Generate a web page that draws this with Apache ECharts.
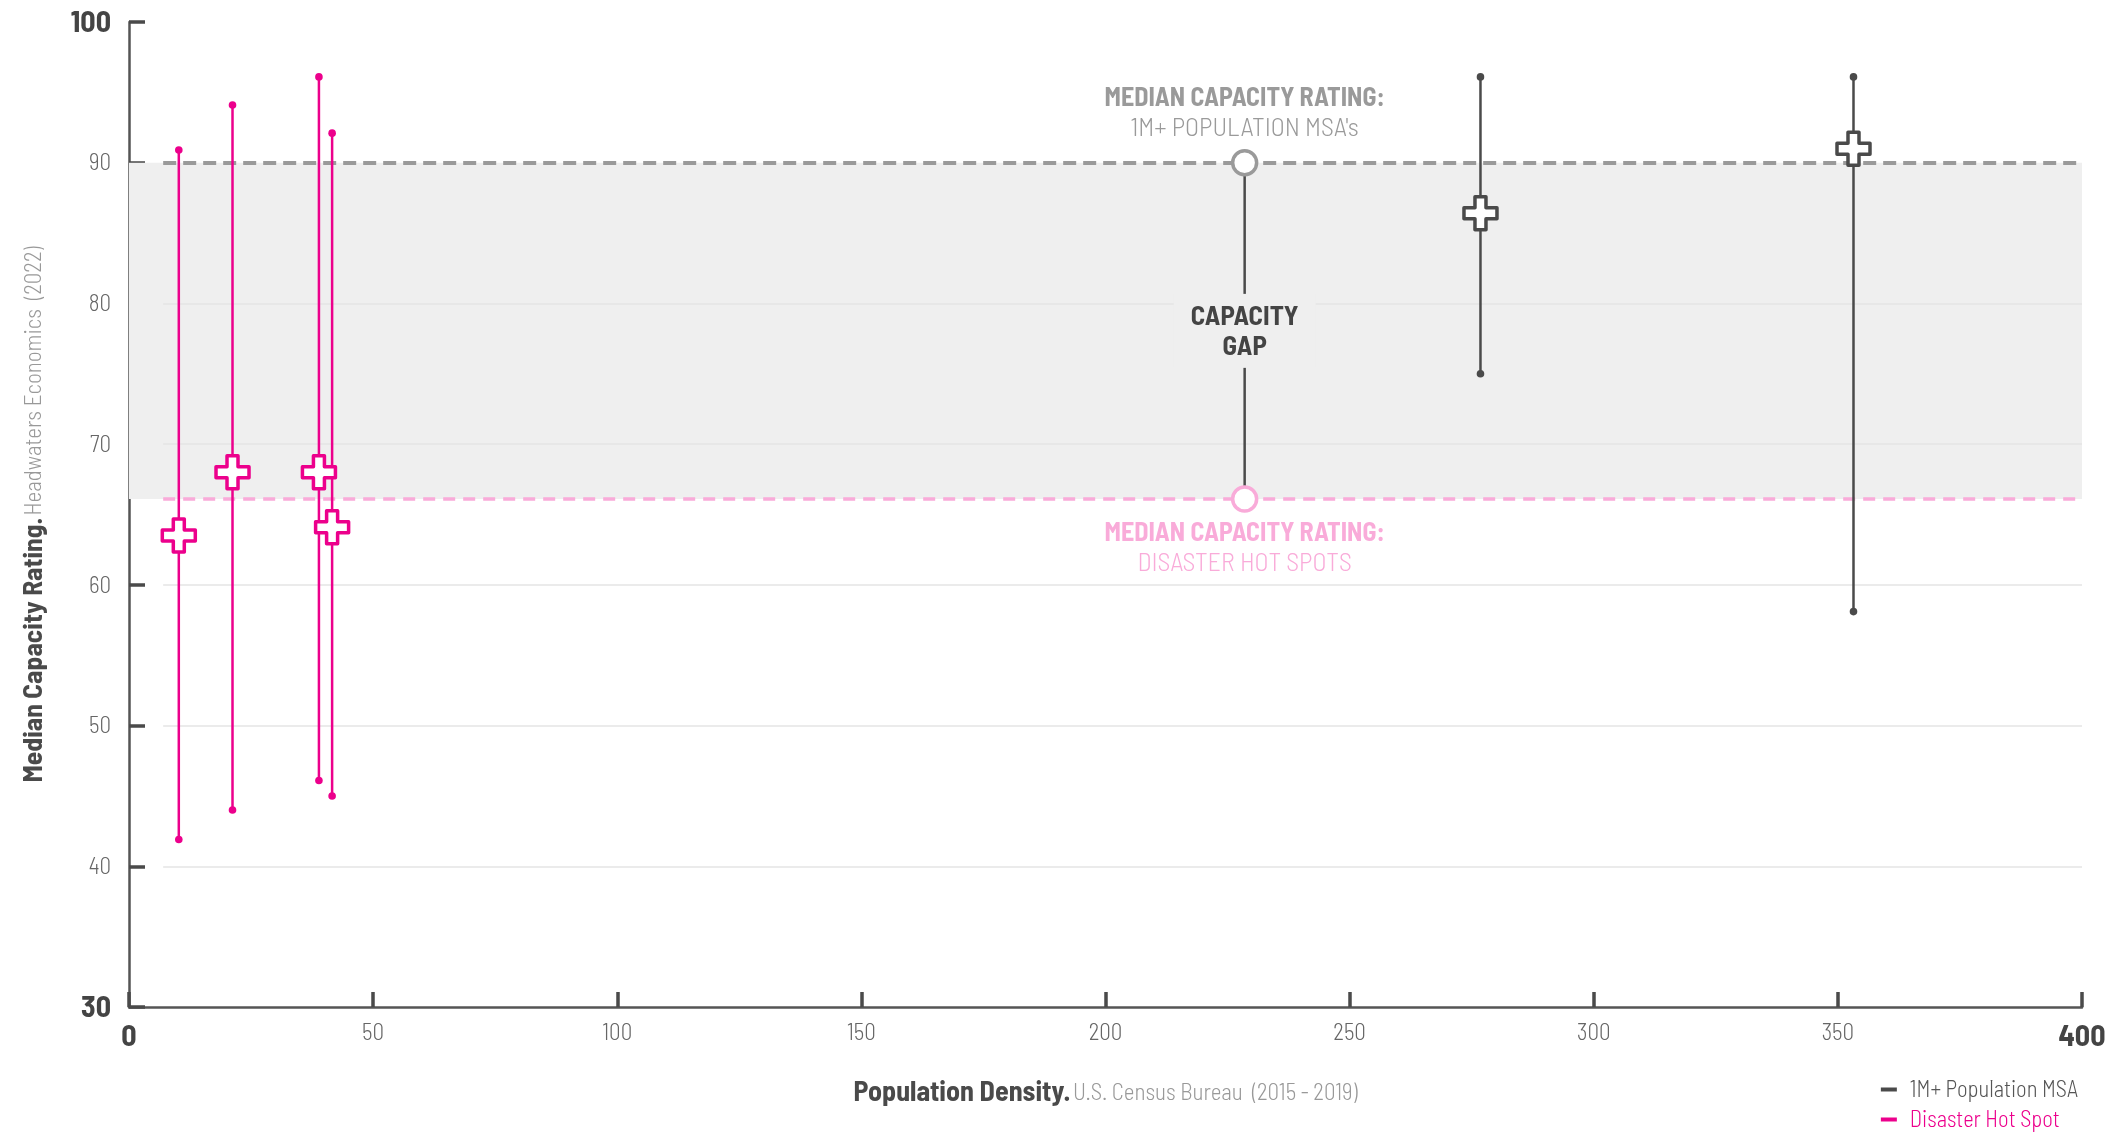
<!DOCTYPE html>
<html>
<head>
<meta charset="utf-8">
<script src="https://cdn.jsdelivr.net/npm/echarts@6/dist/echarts.min.js"></script>
<style>
html,body{margin:0;padding:0;background:#fff;}
#chart{width:2113px;height:1138px;}
</style>
</head>
<body>
<div id="chart"></div>
<script>
// ---- data ----
const hotspotX = [10.2, 21.2, 38.9, 41.6];
const hotspotLow = [41.9, 44.0, 46.1, 45.0];
const hotspotHigh = [90.9, 94.1, 96.1, 92.1];
const hotspotMedian = [63.5, 68.0, 68.0, 64.1];

const msaX = [276.8, 353.2];
const msaLow = [75.0, 58.1];
const msaHigh = [96.1, 96.1];
const msaMedian = [86.4, 91.0];

const msaOverallMedian = 90;
const hotspotOverallMedian = 66.1;
const gapX = 228.5;

const yTicks = [30, 40, 50, 60, 70, 80, 90, 100];
const xTicks = [0, 50, 100, 150, 200, 250, 300, 350, 400];
const gridValues = [40, 50, 60, 70, 80];

const seriesNames = ['1M+ Population MSA', 'Disaster Hot Spot'];

// ---- styles ----
const FONT = "'Barlow Semi Condensed','Roboto Condensed','Liberation Sans Narrow','DejaVu Sans Condensed',sans-serif";
const PINK = '#ec008c';
const LIGHTPINK = '#f9abd9';
const DARK = '#4a4a4a';
const GRAY = '#9a9a9a';
const BAND = '#efefef';

const crossPath = 'path://M1,0 H2 V1 H3 V2 H2 V3 H1 V2 H0 V1 H1 Z';

function errorBarRender(params, api) {
  const x = api.value(0), lo = api.value(1), hi = api.value(2);
  const p1 = api.coord([x, lo]), p2 = api.coord([x, hi]);
  const color = api.visual('color');
  return {
    type: 'group',
    children: [
      {type: 'line', shape: {x1: p1[0], y1: p1[1], x2: p2[0], y2: p2[1]}, style: {stroke: color, lineWidth: 2.5}},
      {type: 'circle', shape: {cx: p1[0], cy: p1[1], r: 3.8}, style: {fill: color}},
      {type: 'circle', shape: {cx: p2[0], cy: p2[1], r: 3.8}, style: {fill: color}}
    ]
  };
}

function annotationRender(params, api) {
  const x = api.value(0);
  const top = api.coord([x, api.value(1)]);
  const bot = api.coord([x, api.value(2)]);
  const cx = top[0];
  const mid = (top[1] + bot[1]) / 2;
  const r = 12;
  const t = (txt, y, color, size, weight) => ({
    type: 'text',
    style: {text: txt, x: cx, y: y, fill: color, fontSize: size, fontWeight: weight, fontFamily: FONT, align: 'center', verticalAlign: 'middle'}
  });
  return {
    type: 'group',
    children: [
      {type: 'rect', shape: {x: cx - 71, y: mid - 37, width: 142, height: 74}, style: {fill: BAND}},
      {type: 'line', shape: {x1: cx, y1: top[1] + r, x2: cx, y2: mid - 37}, style: {stroke: DARK, lineWidth: 2.5}},
      {type: 'line', shape: {x1: cx, y1: mid + 37, x2: cx, y2: bot[1] - r}, style: {stroke: DARK, lineWidth: 2.5}},
      {type: 'circle', shape: {cx: cx, cy: top[1], r: r}, style: {fill: '#fff', stroke: GRAY, lineWidth: 3.5}},
      {type: 'circle', shape: {cx: cx, cy: bot[1], r: r}, style: {fill: '#fff', stroke: LIGHTPINK, lineWidth: 3.5}},
      t('CAPACITY', mid - 15, '#444', 27, 'bold'),
      t('GAP', mid + 15, '#444', 27, 'bold'),
      t('MEDIAN CAPACITY RATING:', top[1] - 65, GRAY, 26, 'bold'),
      t("1M+ POPULATION MSA's", top[1] - 35, GRAY, 26, 300),
      t('MEDIAN CAPACITY RATING:', bot[1] + 33, LIGHTPINK, 26, 'bold'),
      t('DISASTER HOT SPOTS', bot[1] + 63, LIGHTPINK, 26, 300)
    ]
  };
}

const tickLabel = (ends) => (v) => (ends.indexOf(v) >= 0 ? '{b|' + v + '}' : '{n|' + v + '}');

const option = {
  backgroundColor: '#fff',
  animation: false,
  textStyle: {fontFamily: FONT},
  grid: {left: 129, right: 31, top: 22, bottom: 131, containLabel: false},
  xAxis: {
    type: 'value', min: 0, max: 400, interval: 50,
    axisLine: {show: true, lineStyle: {color: '#555', width: 2.5}},
    axisTick: {show: true, inside: true, length: 15, lineStyle: {color: DARK, width: 3.5}},
    splitLine: {show: false},
    axisLabel: {
      margin: 14,
      formatter: tickLabel([xTicks[0], xTicks[xTicks.length - 1]]),
      rich: {
        b: {fontSize: 30, fontWeight: 'bold', color: '#444', fontFamily: FONT},
        n: {fontSize: 23, fontWeight: 300, color: '#666', fontFamily: FONT}
      }
    },
    name: '{b|Population Density.} {l|U.S. Census Bureau  (2015 - 2019)}',
    nameLocation: 'middle', nameGap: 71,
    nameTextStyle: {
      rich: {
        b: {fontSize: 28, fontWeight: 'bold', color: '#4a4a4a', fontFamily: FONT},
        l: {fontSize: 23, fontWeight: 300, color: '#999', fontFamily: FONT}
      }
    }
  },
  yAxis: {
    type: 'value', min: 30, max: 100, interval: 10,
    axisLine: {show: true, lineStyle: {color: '#555', width: 2.5}},
    axisTick: {show: true, inside: true, length: 16, lineStyle: {color: DARK, width: 3.5}},
    splitLine: {show: false},
    axisLabel: {
      margin: 18,
      formatter: tickLabel([yTicks[0], yTicks[yTicks.length - 1]]),
      rich: {
        b: {fontSize: 30, fontWeight: 'bold', color: '#444', fontFamily: FONT},
        n: {fontSize: 23, fontWeight: 300, color: '#666', fontFamily: FONT}
      }
    },
    name: '{b|Median Capacity Rating.} {l|Headwaters Economics  (2022)}',
    nameLocation: 'middle', nameGap: 82, nameRotate: 90,
    nameTextStyle: {
      rich: {
        b: {fontSize: 27.5, fontWeight: 'bold', color: '#4a4a4a', fontFamily: FONT},
        l: {fontSize: 23, fontWeight: 300, color: '#999', fontFamily: FONT}
      }
    }
  },
  legend: {
    data: [
      {name: seriesNames[0], textStyle: {color: '#555'}},
      {name: seriesNames[1], textStyle: {color: PINK}}
    ],
    orient: 'vertical', right: 30, top: 1073,
    icon: 'rect', itemWidth: 16, itemHeight: 4, itemGap: 7,
    textStyle: {fontSize: 22.5, fontWeight: 300, fontFamily: FONT, padding: [0, 0, 0, 8]},
    selectedMode: false
  },
  series: [
    {
      name: 'band', type: 'line', data: [], z: 1, silent: true,
      markArea: {
        silent: true, z: 1,
        itemStyle: {color: BAND},
        data: [[{xAxis: xTicks[0], yAxis: msaOverallMedian}, {xAxis: xTicks[xTicks.length - 1], yAxis: hotspotOverallMedian}]]
      }
    },
    {
      name: 'refs', type: 'line', data: [], z: 2, silent: true,
      markLine: {
        silent: true, z: 2, symbol: 'none', label: {show: false},
        data: gridValues.map(v => [
          {coord: [7, v], lineStyle: {color: '#e4e4e4', width: 1.5, type: 'solid'}},
          {coord: [400, v]}
        ]).concat([
          [{coord: [7, msaOverallMedian], lineStyle: {color: GRAY, width: 4, type: [13, 7]}}, {coord: [400, msaOverallMedian]}],
          [{coord: [7, hotspotOverallMedian], lineStyle: {color: LIGHTPINK, width: 3.5, type: [12, 8]}}, {coord: [400, hotspotOverallMedian]}]
        ])
      }
    },
    {
      name: 'annotation', type: 'custom', z: 3, silent: true,
      renderItem: annotationRender,
      encode: {x: 0, y: [1, 2]},
      data: [[gapX, msaOverallMedian, hotspotOverallMedian]]
    },
    {
      name: seriesNames[0], type: 'custom', z: 4,
      itemStyle: {color: DARK},
      renderItem: errorBarRender,
      encode: {x: 0, y: [1, 2]},
      data: msaX.map((x, i) => [x, msaLow[i], msaHigh[i]])
    },
    {
      name: seriesNames[1], type: 'custom', z: 4,
      itemStyle: {color: PINK},
      renderItem: errorBarRender,
      encode: {x: 0, y: [1, 2]},
      data: hotspotX.map((x, i) => [x, hotspotLow[i], hotspotHigh[i]])
    },
    {
      name: 'msaMedian', type: 'scatter', z: 5,
      symbol: crossPath, symbolSize: 33,
      itemStyle: {color: '#fff', borderColor: DARK, borderWidth: 3.5, borderJoin: 'round', opacity: 1},
      data: msaX.map((x, i) => [x, msaMedian[i]])
    },
    {
      name: 'hotspotMedian', type: 'scatter', z: 5,
      symbol: crossPath, symbolSize: 33,
      itemStyle: {color: '#fff', borderColor: PINK, borderWidth: 3.5, borderJoin: 'round', opacity: 1},
      data: hotspotX.map((x, i) => [x, hotspotMedian[i]])
    }
  ]
};

const chart = echarts.init(document.getElementById('chart'));
chart.setOption(option);
</script>
</body>
</html>
